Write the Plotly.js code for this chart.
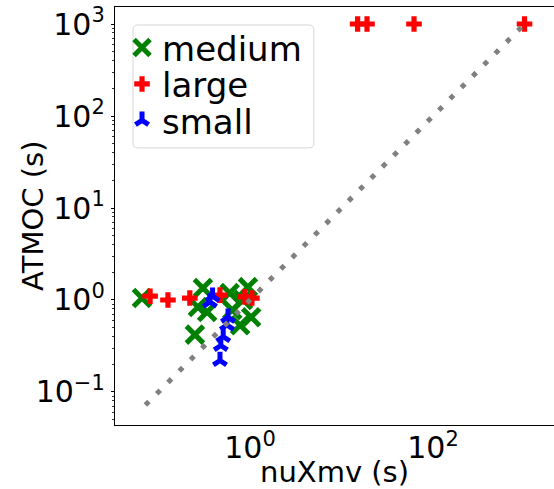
<!DOCTYPE html>
<html>
<head>
<meta charset="utf-8">
<script src="https://cdn.plot.ly/plotly-3.0.1.min.js"></script>
<style>html,body{margin:0;padding:0;background:#fff;}#plot{width:554px;height:489px;}</style>
</head>
<body>
<div id="plot"></div>
<script>
// medium
var mediumX = [0.066, 0.306, 0.27, 0.34, 0.25, 0.60, 0.95, 0.64, 1.03, 0.78, 0.84];
var mediumY = [1.05, 1.35, 0.84, 0.74, 0.42, 1.19, 1.38, 0.78, 0.65, 0.53, 1.0];
// large
var largeX = [0.081, 0.127, 0.22, 0.47, 0.88, 1.05, 15, 19, 62, 1000];
var largeY = [1.10, 1.0, 1.05, 1.13, 1.08, 1.05, 1000, 1000, 1000, 1000];
// small
var smallX = [0.39, 0.365, 0.575, 0.56, 0.51, 0.48, 0.47];
var smallY = [1.10, 0.95, 0.65, 0.535, 0.40, 0.32, 0.22];
// diagonal reference line
var diagX = [0.072, 1000];
var diagY = [0.072, 1000];

var xTickVals = [1, 100];
var xTickText = ['10<sup>0</sup>', '10<sup>2</sup>'];
var yTickVals = [0.1, 1, 10, 100, 1000];
var yTickText = ['10<sup>\u22121</sup>', '10<sup>0</sup>', '10<sup>1</sup>', '10<sup>2</sup>', '10<sup>3</sup>'];

var font = 'DejaVu Sans, sans-serif';

var traces = [
  {x: mediumX, y: mediumY, type: 'scatter', mode: 'markers', name: 'medium', legend: 'legend',
   marker: {symbol: 'x-thin', size: 17, color: '#008000', line: {color: '#008000', width: 5}}},
  {x: largeX, y: largeY, type: 'scatter', mode: 'markers', name: 'large', legend: 'legend2',
   marker: {symbol: 'cross', size: 13, color: '#ff0000', line: {width: 0}}},
  {x: smallX, y: smallY, type: 'scatter', mode: 'markers', name: 'small', legend: 'legend3',
   marker: {symbol: 'y-up', size: 11, color: '#0000ff', line: {color: '#0000ff', width: 5}}},
  {x: diagX, y: diagY, type: 'scatter', mode: 'lines', showlegend: false, hoverinfo: 'skip',
   line: {color: '#808080', width: 5, dash: '5px,11px'}}
];

function legendAt(yc) {
  return {x: 0.016, y: yc, xanchor: 'left', yanchor: 'middle',
          bgcolor: 'rgba(0,0,0,0)', borderwidth: 0,
          font: {family: font, size: 34, color: '#000000'}, itemwidth: 30};
}

// rounded legend frame in paper coords
var fx0 = 0.041, fx1 = 0.453, fy0 = 0.663, fy1 = 0.957, rx = 0.011, ry = 0.0115;
var framePath = 'M' + (fx0 + rx) + ',' + fy1 +
  ' L' + (fx1 - rx) + ',' + fy1 + ' Q' + fx1 + ',' + fy1 + ' ' + fx1 + ',' + (fy1 - ry) +
  ' L' + fx1 + ',' + (fy0 + ry) + ' Q' + fx1 + ',' + fy0 + ' ' + (fx1 - rx) + ',' + fy0 +
  ' L' + (fx0 + rx) + ',' + fy0 + ' Q' + fx0 + ',' + fy0 + ' ' + fx0 + ',' + (fy0 + ry) +
  ' L' + fx0 + ',' + (fy1 - ry) + ' Q' + fx0 + ',' + fy1 + ' ' + (fx0 + rx) + ',' + fy1 + ' Z';

var layout = {
  width: 554, height: 489,
  margin: {l: 115, r: 0, t: 7, b: 64, pad: 0},
  paper_bgcolor: '#ffffff', plot_bgcolor: '#ffffff',
  font: {family: font, color: '#000000', size: 30},
  showlegend: true,
  legend: legendAt(0.902),
  legend2: legendAt(0.815),
  legend3: legendAt(0.728),
  shapes: [{type: 'path', xref: 'paper', yref: 'paper', path: framePath,
            fillcolor: 'rgba(255,255,255,0.8)', line: {color: '#d6d6d6', width: 1}, layer: 'above'}],
  annotations: [{text: 'ATMOC (s)', xref: 'paper', yref: 'paper', x: -0.187, y: 0.5,
                 xanchor: 'center', yanchor: 'middle', textangle: -90, showarrow: false,
                 font: {family: font, size: 29, color: '#000000'}}],
  xaxis: {type: 'log', range: [-1.475, 3.322], tickmode: 'array', tickvals: xTickVals, ticktext: xTickText,
          showgrid: false, zeroline: false, showline: true, linecolor: '#000000', linewidth: 1.2, mirror: true,
          ticks: '', ticklabelstandoff: -4,
          tickfont: {family: font, size: 30, color: '#000000'},
          title: {text: 'nuXmv (s)', font: {family: font, size: 29, color: '#000000'}},
          automargin: false},
  yaxis: {type: 'log', range: [-1.359, 3.185], tickmode: 'array', tickvals: yTickVals, ticktext: yTickText,
          showgrid: false, zeroline: false, showline: true, linecolor: '#000000', linewidth: 1.2, mirror: false,
          ticks: 'outside', ticklen: 3, tickwidth: 1, tickcolor: '#000000',
          tickfont: {family: font, size: 30, color: '#000000'},
          minor: {ticks: 'outside', ticklen: 2, tickwidth: 0.8, tickcolor: '#000000', dtick: 'D1', showgrid: false},
          automargin: false}
};

Plotly.newPlot('plot', traces, layout, {displayModeBar: false, staticPlot: true});
</script>
</body>
</html>
